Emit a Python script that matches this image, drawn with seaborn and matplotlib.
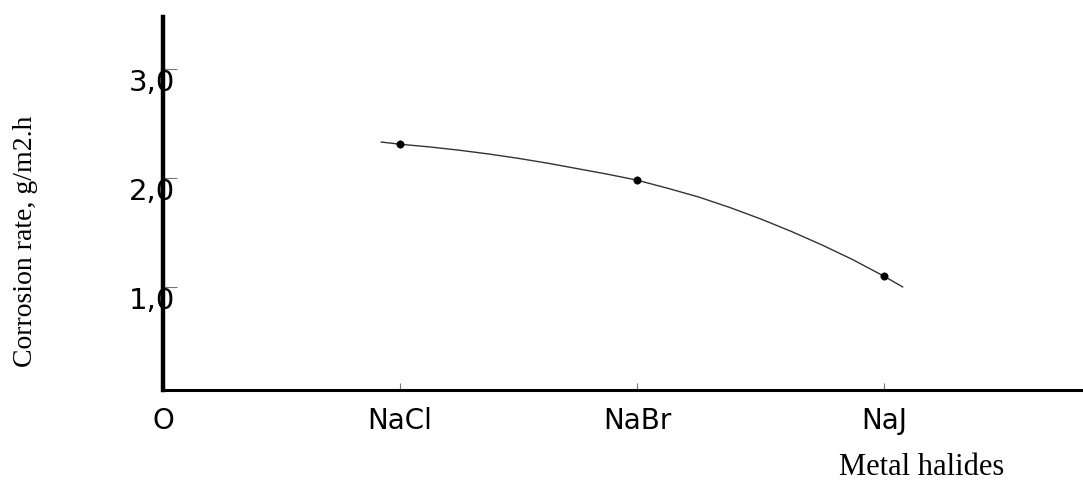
import matplotlib
matplotlib.use("Agg")
import numpy as np
import pandas as pd
import seaborn as sns
import matplotlib.pyplot as plt

# Data
halides = ["NaCl", "NaBr", "NaJ"]
halide_pos = [1.0, 2.0, 3.04]
rate = [2.31, 1.98, 1.10]

# hand-drawn trend curve through the points
curve_x = [0.92, 1.0, 1.125, 1.25, 1.375, 1.5, 1.625, 1.75, 1.875, 2.0,
           2.13, 2.26, 2.39, 2.52, 2.65, 2.78, 2.91, 3.04, 3.12]
curve_y = [2.33, 2.31, 2.285, 2.255, 2.22, 2.18, 2.135, 2.085, 2.035, 1.98,
           1.905, 1.825, 1.73, 1.625, 1.51, 1.385, 1.25, 1.10, 1.0]

y_ticks = [1.0, 2.0, 3.0]
y_labels = ["1,0", "2,0", "3,0"]

points = pd.DataFrame({"x": halide_pos, "rate": rate, "halide": halides})
curve = pd.DataFrame({"x": curve_x, "rate": curve_y})

sns.set_style("white")
plt.rcParams["font.family"] = ["DejaVu Sans"]
plt.rcParams["ytick.alignment"] = "top"

fig = plt.figure(figsize=(10.83, 4.88), dpi=100)
ax = fig.add_axes([0.1505, 0.2008, 0.8495, 0.7643])

sns.lineplot(data=curve, x="x", y="rate", color="#333333", linewidth=1.0,
             sort=False, ax=ax)
sns.scatterplot(data=points, x="x", y="rate", color="black", s=28,
                edgecolor="black", ax=ax, zorder=3)

ax.set_xlim(0, 3.88)
ax.set_ylim(0.055, 3.477)

# axes: only left and bottom, thick black
for side in ["top", "right"]:
    ax.spines[side].set_visible(False)
ax.spines["left"].set_linewidth(3.2)
ax.spines["bottom"].set_linewidth(2.2)
ax.spines["left"].set_color("black")
ax.spines["bottom"].set_color("black")

ax.set_xticks([0.0] + halide_pos)
ax.set_xticklabels(["O"] + halides, fontsize=20)
ax.set_yticks(y_ticks)
ax.set_yticklabels(y_labels, fontsize=21)

ax.tick_params(axis="x", direction="in", length=5, width=0.8,
               color="#777777", labelcolor="black", pad=12, bottom=True)
ax.tick_params(axis="y", direction="in", length=10, width=0.8,
               color="#777777", labelcolor="black", pad=-8.6, left=True)
# no tick mark at the origin
ax.xaxis.get_major_ticks()[0].tick1line.set_visible(False)

ax.set_xlabel("")
ax.set_ylabel("")

fig.text(0.024, 0.506, "Corrosion rate, g/m2.h", rotation=90, ha="center",
         va="center", fontsize=20, family="Liberation Serif", color="black")
fig.text(0.851, 0.043, "Metal halides", ha="center", va="center",
         fontsize=22, family="Liberation Serif", color="black")

fig.savefig("out.png", dpi=100)
